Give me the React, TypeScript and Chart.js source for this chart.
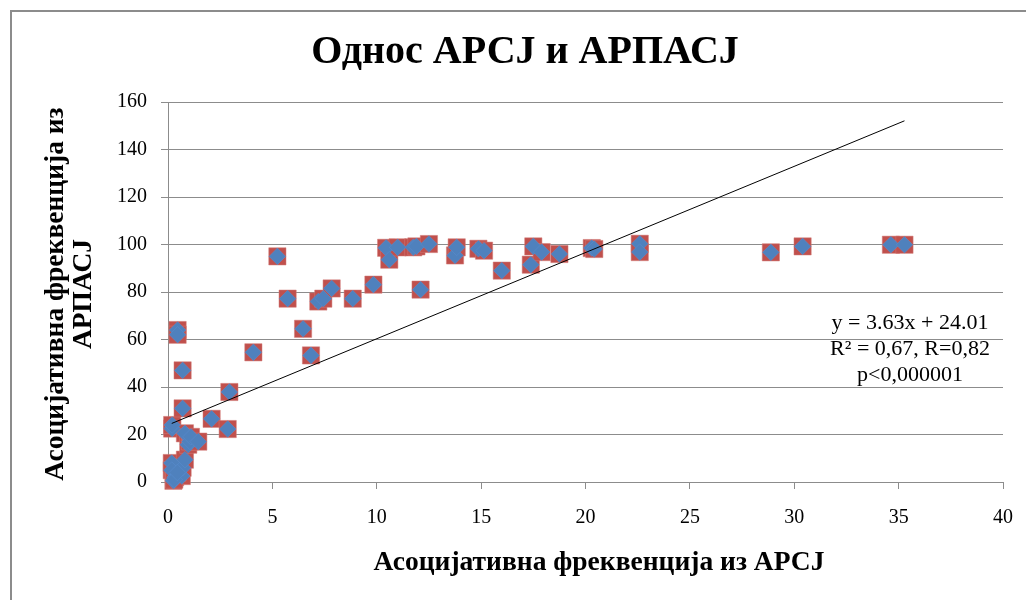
import React, { useEffect, useRef } from "react";
import { Chart, registerables } from "chart.js";

Chart.register(...registerables);

const TITLE = "Однос АРСЈ и АРПАСЈ";
const X_TITLE = "Асоцијативна фреквенција из АРСЈ";
const Y_TITLE_LINES = ["Асоцијативна фреквенција из", "АРПАСЈ"];
const EQUATION_LINES = ["y = 3.63x + 24.01", "R² = 0,67, R=0,82", "p<0,000001"];

const SLOPE = 3.63;
const INTERCEPT = 24.01;

// АРСЈ frequency (x) and АРПАСЈ frequency (y)
const xValues = [
  0.18, 0.18, 0.26, 0.34, 0.5, 0.66, 0.7, 0.81, 0.3, 0.45,
  0.2, 0.2, 0.46, 0.46, 0.7, 0.7, 0.81, 0.97, 1.05, 1.1,
  1.45, 2.09, 2.86, 2.94, 4.09, 5.24, 5.73, 6.47, 6.85, 7.2,
  7.44, 7.84, 8.85, 9.84, 10.45, 10.6, 11.0, 11.75, 11.9, 12.1,
  12.5, 13.75, 13.83, 14.87, 15.14, 15.99, 17.38, 17.5, 17.9, 18.75,
  20.3, 20.42, 22.6, 22.6, 28.88, 30.4, 34.63, 35.28,
];
const yValues = [
  8, 5, 0.5, 2, 3, 2.5, 6, 9.4, 1, 4,
  22.5, 24, 64, 62, 47, 31, 20.5, 15.7, 17.1, 19,
  17, 26.6, 22.3, 37.9, 54.6, 95, 77.2, 64.5, 53.3, 76,
  77.2, 81.5, 77.2, 83.1, 98.6, 93.6, 98.8, 98.8, 99.2, 81,
  100.2, 95.4, 98.8, 98.2, 97.4, 89, 91.5, 99.2, 96.8, 96,
  98.5, 98.1, 100.3, 96.8, 96.7, 99.2, 99.9, 99.9,
];

const X_MIN = 0;
const X_MAX = 40;
const X_STEP = 5;
const Y_MIN = 0;
const Y_MAX = 160;
const Y_STEP = 20;

const SERIF = "'Liberation Serif', 'Times New Roman', serif";

export default function App() {
  const ref = useRef<HTMLCanvasElement | null>(null);

  useEffect(() => {
    const canvas = ref.current;
    if (!canvas) return;
    const points = xValues.map((x, i) => ({ x, y: yValues[i] }));
    const xLo = Math.min(...xValues);
    const xHi = Math.max(...xValues);
    const trend = [
      { x: xLo, y: SLOPE * xLo + INTERCEPT },
      { x: xHi, y: SLOPE * xHi + INTERCEPT },
    ];

    const decor = {
      id: "decor",
      beforeDraw(chart: any) {
        const ctx = chart.ctx;
        ctx.save();
        ctx.fillStyle = "#ffffff";
        ctx.fillRect(0, 0, chart.width, chart.height);
        ctx.strokeStyle = "#8c8c8c";
        ctx.lineWidth = 2;
        ctx.beginPath();
        ctx.moveTo(11, chart.height + 5);
        ctx.lineTo(11, 11);
        ctx.lineTo(chart.width + 5, 11);
        ctx.stroke();
        ctx.restore();
      },
      afterDraw(chart: any) {
        const ctx = chart.ctx;
        ctx.save();
        ctx.fillStyle = "#000000";
        ctx.textAlign = "center";
        ctx.textBaseline = "middle";
        ctx.font = `bold 40px ${SERIF}`;
        ctx.fillText(TITLE, 525, 53);
        ctx.font = `bold 27.5px ${SERIF}`;
        ctx.fillText(X_TITLE, 599, 563);
        ctx.save();
        ctx.translate(56, 294);
        ctx.rotate(-Math.PI / 2);
        ctx.fillText(Y_TITLE_LINES[0], 0, 0);
        ctx.fillText(Y_TITLE_LINES[1], 0, 28);
        ctx.restore();
        ctx.font = `22px ${SERIF}`;
        EQUATION_LINES.forEach((t, i) => ctx.fillText(t, 910, 323 + i * 26));
        ctx.restore();
      },
    };

    const chart = new Chart(canvas, {
      type: "scatter",
      data: {
        datasets: [
          {
            type: "line",
            data: trend,
            borderColor: "#000000",
            borderWidth: 1,
            pointRadius: 0,
            fill: false,
            clip: false,
            order: 0,
          } as any,
          {
            data: points,
            pointStyle: "rectRot",
            pointRadius: 8.3,
            backgroundColor: "#4f81bd",
            borderColor: "#5b8fd0",
            borderWidth: 0.5,
            clip: false,
            order: 1,
          },
          {
            data: points,
            pointStyle: "rect",
            pointRadius: 12.2,
            backgroundColor: "#c0504d",
            borderColor: "#d27c79",
            borderWidth: 0.5,
            clip: false,
            order: 2,
          },
        ],
      },
      options: {
        responsive: false,
        animation: false,
        devicePixelRatio: 1,
        layout: { autoPadding: false, padding: { left: 0, top: 102, right: 23, bottom: 0 } },
        plugins: {
          legend: { display: false },
          tooltip: { enabled: false },
          title: { display: false },
        },
        scales: {
          x: {
            type: "linear",
            min: X_MIN,
            max: X_MAX,
            afterFit: (s: any) => {
              s.height = 118;
              s.paddingLeft = 0;
              s.paddingRight = 0;
            },
            ticks: {
              stepSize: X_STEP,
              color: "#000000",
              padding: 17,
              font: { family: SERIF, size: 20 },
            },
            grid: {
              drawOnChartArea: false,
              drawTicks: true,
              tickLength: 7,
              color: "#8c8c8c",
            },
            border: { display: true, color: "#8c8c8c", width: 1 },
          },
          y: {
            min: Y_MIN,
            max: Y_MAX,
            afterFit: (s: any) => {
              s.width = 168;
              s.paddingTop = 0;
              s.paddingBottom = 0;
            },
            ticks: {
              stepSize: Y_STEP,
              color: "#000000",
              padding: 14,
              font: { family: SERIF, size: 20 },
            },
            grid: {
              drawTicks: true,
              tickLength: 7,
              color: "#8c8c8c",
            },
            border: { display: true, color: "#8c8c8c", width: 1 },
          },
        },
      },
      plugins: [decor],
    } as any);
    return () => chart.destroy();
  }, []);

  return (
    <div style={{ position: "fixed", left: 0, top: 0, width: 1026, height: 600 }}>
      <canvas ref={ref} width={1026} height={600} />
    </div>
  );
}
